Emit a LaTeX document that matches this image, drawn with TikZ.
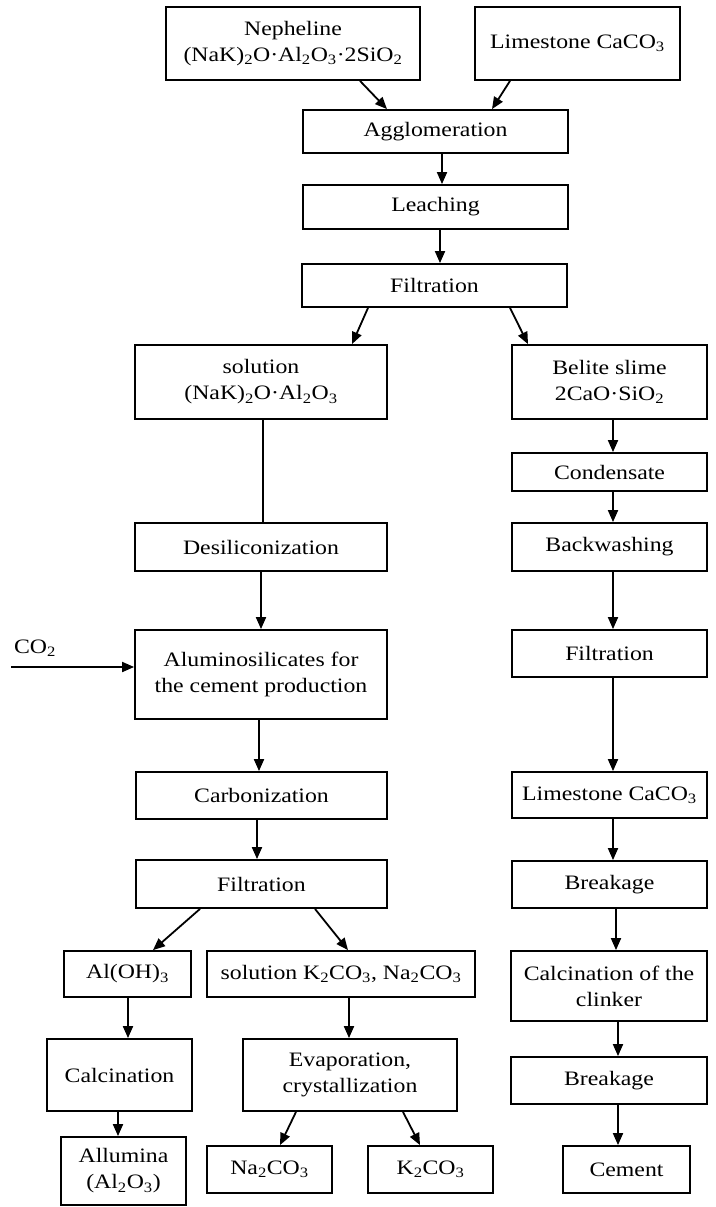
\documentclass[tikz,border=0pt]{standalone}
\usepackage{fontspec}
\setmainfont{Liberation Serif}[FakeStretch=1.16]
\usetikzlibrary{arrows.meta}
\newcommand{\sbs}[1]{\textsubscript{#1}}
\tikzset{
  box/.style={draw, line width=1.8pt, rectangle, inner sep=0pt, align=center, font=\fontsize{20.5}{26}\selectfont},
  arr/.style={line width=1.8pt, -{Triangle[length=12pt,width=10pt]}},
  ln/.style={line width=1.8pt},
}
\begin{document}
\begin{tikzpicture}[x=1pt,y=-1pt]
\useasboundingbox (0,0) rectangle (715,1207);
% top
\node[box, minimum width=254pt, minimum height=73pt] (nep) at (293,43.5) {Nepheline\\(NaK)\sbs{2}O·Al\sbs{2}O\sbs{3}·2SiO\sbs{2}};
\node[box, minimum width=205pt, minimum height=73pt] (lime) at (577.5,43.5) {Limestone CaCO\sbs{3}};
\node[box, minimum width=265pt, minimum height=43pt] (agg) at (435.5,131.5) {Agglomeration};
\node[box, minimum width=265pt, minimum height=44pt] (leach) at (435.5,207) {Leaching};
\node[box, minimum width=265pt, minimum height=43pt] (filt1) at (434.5,285.5) {Filtration};
% left column
\node[box, minimum width=252pt, minimum height=74pt] (sol) at (261,382) {solution\\(NaK)\sbs{2}O·Al\sbs{2}O\sbs{3}};
\node[box, minimum width=252pt, minimum height=48pt] (desil) at (261,547) {Desiliconization};
\node[box, minimum width=252pt, minimum height=89pt] (alum) at (261,674.5) {Aluminosilicates for\\the cement production};
\node[box, minimum width=251pt, minimum height=47pt] (carb) at (261.5,795.5) {Carbonization};
\node[box, minimum width=251pt, minimum height=48pt] (filt2) at (261.5,884) {Filtration};
\node (co2) at (35,648) {\fontsize{20.5}{26}\selectfont CO\sbs{2}};
\coordinate (co2s) at (11,667);
% bottom left
\node[box, minimum width=127pt, minimum height=46pt] (aloh) at (127.5,974) {Al(OH)\sbs{3}};
\node[box, minimum width=268pt, minimum height=46pt] (solk) at (341,974) {solution K\sbs{2}CO\sbs{3}, Na\sbs{2}CO\sbs{3}};
\node[box, minimum width=145pt, minimum height=72pt] (calc1) at (119.5,1075) {Calcination};
\node[box, minimum width=125pt, minimum height=68pt] (allu) at (123.5,1171) {Allumina\\(Al\sbs{2}O\sbs{3})};
\node[box, minimum width=214pt, minimum height=72pt] (evap) at (350,1075) {Evaporation,\\crystallization};
\node[box, minimum width=125pt, minimum height=47pt] (na) at (269.5,1169.5) {Na\sbs{2}CO\sbs{3}};
\node[box, minimum width=125pt, minimum height=47pt] (k) at (430.5,1169.5) {K\sbs{2}CO\sbs{3}};
% right column
\node[box, minimum width=195pt, minimum height=74pt] (bel) at (609.5,382) {Belite slime\\2CaO·SiO\sbs{2}};
\node[box, minimum width=195pt, minimum height=38pt] (cond) at (609.5,472) {Condensate};
\node[box, minimum width=195pt, minimum height=48pt] (back) at (609.5,547) {Backwashing};
\node[box, minimum width=195pt, minimum height=47pt] (filtR) at (609.5,653.5) {Filtration};
\node[box, minimum width=195pt, minimum height=46pt] (limeR) at (609.5,795) {Limestone CaCO\sbs{3}};
\node[box, minimum width=195pt, minimum height=47pt] (brk1) at (609.5,884.5) {Breakage};
\node[box, minimum width=196pt, minimum height=70pt] (calc2) at (609,986) {Calcination of the\\clinker};
\node[box, minimum width=196pt, minimum height=47pt] (brk2) at (609,1080.5) {Breakage};
\node[box, minimum width=127pt, minimum height=47pt] (cem) at (626.5,1169.5) {Cement};
% connectors top
\draw[arr] ([xshift=67pt]nep.south) -- ([xshift=-48.5pt]agg.north);
\draw[arr] ([xshift=-67.5pt]lime.south) -- ([xshift=56.5pt]agg.north);
\draw[arr] ([xshift=6.5pt]agg.south) -- ([xshift=6.5pt]leach.north);
\draw[arr] ([xshift=4.5pt]leach.south) -- ([xshift=5.5pt]filt1.north);
\draw[arr] ([xshift=-66.5pt]filt1.south) -- ([xshift=91pt]sol.north);
\draw[arr] ([xshift=75.5pt]filt1.south) -- ([xshift=-81.5pt]bel.north);
% left column
\draw[ln] ([xshift=2pt]sol.south) -- ([xshift=2pt]desil.north);
\draw[arr] (desil.south) -- (alum.north);
\draw[arr] ([xshift=-2pt]alum.south) -- ([xshift=-2.5pt]carb.north);
\draw[arr] ([xshift=-4.5pt]carb.south) -- ([xshift=-4.5pt]filt2.north);
\draw[arr] (co2s) -- ([yshift=7.5pt]alum.west);
\draw[arr] ([xshift=-61.5pt]filt2.south) -- ([xshift=25.5pt]aloh.north);
\draw[arr] ([xshift=53.5pt]filt2.south) -- ([xshift=7pt]solk.north);
\draw[arr] ([xshift=0.5pt]aloh.south) -- ([xshift=8.5pt]calc1.north);
\draw[arr] ([xshift=-1.5pt]calc1.south) -- ([xshift=-5.5pt]allu.north);
\draw[arr] ([xshift=8pt]solk.south) -- ([xshift=-1pt]evap.north);
\draw[arr] ([xshift=-54pt]evap.south) -- ([xshift=10.5pt]na.north);
\draw[arr] ([xshift=53pt]evap.south) -- ([xshift=-10.5pt]k.north);
% right column
\draw[arr] ([xshift=3.5pt]bel.south) -- ([xshift=3.5pt]cond.north);
\draw[arr] ([xshift=3.5pt]cond.south) -- ([xshift=3.5pt]back.north);
\draw[arr] ([xshift=3.5pt]back.south) -- ([xshift=3.5pt]filtR.north);
\draw[arr] ([xshift=3.5pt]filtR.south) -- ([xshift=3.5pt]limeR.north);
\draw[arr] ([xshift=3.5pt]limeR.south) -- ([xshift=3.5pt]brk1.north);
\draw[arr] ([xshift=6.5pt]brk1.south) -- ([xshift=7pt]calc2.north);
\draw[arr] ([xshift=9pt]calc2.south) -- ([xshift=9pt]brk2.north);
\draw[arr] ([xshift=9pt]brk2.south) -- ([xshift=-8.5pt]cem.north);
\end{tikzpicture}
\end{document}
